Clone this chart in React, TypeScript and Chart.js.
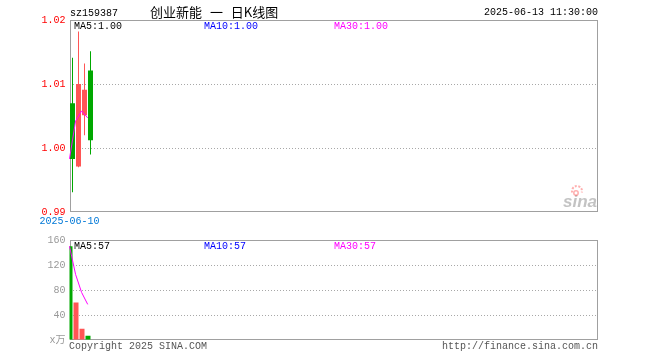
import React, { useEffect, useRef } from "react";
import { Chart, registerables } from "chart.js";

Chart.register(...registerables);

// ---------- data ----------
const stockCode = "sz159387";
const chartTitle = "创业新能 一 日K线图";
const timestamp = "2025-06-13 11:30:00";
const dates = ["2025-06-10", "2025-06-11", "2025-06-12", "2025-06-13"];
const opens = [1.007, 0.9971, 1.0051, 1.0121];
const closes = [0.9983, 1.01, 1.0091, 1.0012];
const highs = [1.0141, 1.0182, 1.0132, 1.0151];
const lows = [0.9931, 0.997, 1.002, 0.999];
const priceMa = [0.9983, 1.0042, 1.0058, 1.0047];
const volumes = [150, 60, 18, 7];
const volumeMa = [150, 105, 76, 57];
const priceTicks = [0.99, 1.0, 1.01, 1.02];
const volumeTicks = [0, 40, 80, 120, 160];
const volumeUnit = "x万";
const slotCount = 88;
const copyright = "Copyright 2025 SINA.COM";
const siteUrl = "http://finance.sina.com.cn";

// ---------- styles ----------
const UP = "#ff5555";
const DOWN = "#00a800";
const MA_COLOR = "#ff00ff";
const MONO = "'Liberation Mono', 'Noto Sans CJK SC', monospace";
const FRAME = "#a0a0a0";
const GRID = "#a8a8a8";

function drawFrame(chart: any) {
  const { ctx, chartArea: a } = chart;
  const l = Math.round(a.left);
  const t = Math.round(a.top);
  const r = Math.round(a.right);
  const b = Math.round(a.bottom);
  ctx.save();
  ctx.strokeStyle = FRAME;
  ctx.lineWidth = 1;
  ctx.strokeRect(l + 0.5, t + 0.5, r - l - 1, b - t - 1);
  ctx.restore();
}

function text(ctx: CanvasRenderingContext2D, s: string, x: number, y: number, color: string, font: string, align: CanvasTextAlign = "left") {
  ctx.save();
  ctx.font = font;
  ctx.fillStyle = color;
  ctx.textAlign = align;
  ctx.textBaseline = "middle";
  ctx.fillText(s, x, y);
  ctx.restore();
}

const monoFont = `10px ${MONO}`;

const pricePlugin = {
  id: "priceDecor",
  beforeDatasetsDraw(chart: any) {
    drawFrame(chart);
    const { ctx } = chart;
    // sina watermark
    ctx.save();
    ctx.globalAlpha = 0.5;
    ctx.fillStyle = "#888";
    ctx.font = "italic bold 17px 'Liberation Sans', sans-serif";
    ctx.textAlign = "right";
    ctx.textBaseline = "alphabetic";
    ctx.fillText("sina", 597, 207);
    ctx.strokeStyle = "#ff6060";
    ctx.lineWidth = 2;
    ctx.setLineDash([2, 1.5]);
    ctx.beginPath();
    ctx.arc(577, 191, 5, Math.PI * 0.9, Math.PI * 2.1);
    ctx.stroke();
    ctx.setLineDash([]);
    ctx.lineWidth = 1.5;
    ctx.beginPath();
    ctx.arc(576, 193, 2.2, 0, Math.PI * 2);
    ctx.stroke();
    ctx.restore();
  },
  afterDraw(chart: any) {
    const { ctx } = chart;
    const last = priceMa.length - 1;
    text(ctx, stockCode, 70, 13, "#000", monoFont);
    ctx.save();
    (ctx as any).wordSpacing = "5px";
    text(ctx, chartTitle, 150, 12.5, "#000", "13px 'Noto Sans CJK SC'");
    ctx.restore();
    text(ctx, timestamp, 598, 12.5, "#000", monoFont, "right");
    const maVal = priceMa[last].toFixed(2);
    text(ctx, `MA5:${maVal}`, 74, 26.5, "#000", monoFont);
    text(ctx, `MA10:${maVal}`, 204, 26.5, "#0000ff", monoFont);
    text(ctx, `MA30:${maVal}`, 334, 26.5, MA_COLOR, monoFont);
    const xs = chart.scales.x;
    text(ctx, dates[0], xs.getPixelForValue(0) - 3, 221.5, "#0078d7", monoFont, "center");
  },
};

const volumePlugin = {
  id: "volumeDecor",
  beforeDatasetsDraw(chart: any) {
    drawFrame(chart);
  },
  afterDraw(chart: any) {
    const { ctx } = chart;
    const last = volumeMa.length - 1;
    const v = String(Math.round(volumeMa[last]));
    text(ctx, `MA5:${v}`, 74, 18, "#000", monoFont);
    text(ctx, `MA10:${v}`, 204, 18, "#0000ff", monoFont);
    text(ctx, `MA30:${v}`, 334, 18, MA_COLOR, monoFont);
    text(ctx, copyright, 69, 118.5, "#555", monoFont);
    text(ctx, siteUrl, 598, 118.5, "#555", monoFont, "right");
  },
};

export default function App() {
  const priceRef = useRef<HTMLCanvasElement>(null);
  const volRef = useRef<HTMLCanvasElement>(null);

  useEffect(() => {
    const colors = opens.map((o, i) => (closes[i] >= o ? UP : DOWN));
    const labels = Array.from({ length: slotCount }, (_, i) => dates[i] ?? "");

    const xScales = {
      x: { type: "category", display: false, offset: true, grid: { display: false } },
      xl: { type: "category", display: false, offset: false, grid: { display: false } },
    };

    const priceChart = new Chart(priceRef.current as HTMLCanvasElement, {
      type: "bar",
      data: {
        labels,
        datasets: [
          {
            type: "bar",
            label: "wick",
            data: lows.map((l, i) => [l, highs[i]]) as any,
            backgroundColor: colors,
            barThickness: 1,
            grouped: false,
            borderWidth: 0,
            inflateAmount: 0,
            xAxisID: "x",
            order: 3,
          } as any,
          {
            type: "bar",
            label: "body",
            data: opens.map((o, i) => [o, closes[i]]) as any,
            backgroundColor: colors,
            barThickness: 5,
            grouped: false,
            borderWidth: 0,
            inflateAmount: 0,
            xAxisID: "x",
            order: 2,
          } as any,
          {
            type: "line",
            label: "MA",
            data: priceMa,
            borderColor: MA_COLOR,
            borderWidth: 1,
            pointRadius: 0,
            tension: 0,
            xAxisID: "xl",
            order: 1,
          } as any,
        ],
      },
      options: {
        responsive: false,
        animation: false,
        events: [],
        layout: { padding: { left: 0, right: 62.5, top: 20, bottom: 16 } },
        plugins: { legend: { display: false }, tooltip: { enabled: false } },
        scales: {
          ...xScales,
          y: {
            type: "linear",
            position: "left",
            min: priceTicks[0],
            max: priceTicks[priceTicks.length - 1],
            afterBuildTicks: (s: any) => {
              s.ticks = priceTicks.map((value) => ({ value }));
            },
            afterFit: (s: any) => {
              s.width = 69.5;
            },
            ticks: {
              color: "#ff0000",
              font: { family: MONO, size: 10 },
              padding: 4,
              callback: (v: any) => Number(v).toFixed(2),
            },
            grid: {
              drawTicks: false,
              lineWidth: 1,
              color: (c: any) =>
                c.tick && (c.tick.value === priceTicks[0] || c.tick.value === priceTicks[priceTicks.length - 1])
                  ? "rgba(0,0,0,0)"
                  : GRID,
            },
            border: { display: false, dash: [1, 2] },
          },
        } as any,
      },
      plugins: [pricePlugin],
    });

    const volChart = new Chart(volRef.current as HTMLCanvasElement, {
      type: "bar",
      data: {
        labels,
        datasets: [
          {
            type: "bar",
            label: "volume",
            data: volumes,
            backgroundColor: colors,
            barThickness: 5,
            borderWidth: 0,
            inflateAmount: 0,
            xAxisID: "x",
            order: 2,
          } as any,
          {
            type: "line",
            label: "MA",
            data: volumeMa,
            borderColor: MA_COLOR,
            borderWidth: 1,
            pointRadius: 0,
            tension: 0,
            xAxisID: "xl",
            order: 1,
          } as any,
        ],
      },
      options: {
        responsive: false,
        animation: false,
        events: [],
        layout: { padding: { left: 0, right: 62.5, top: 12, bottom: 20 } },
        plugins: { legend: { display: false }, tooltip: { enabled: false } },
        scales: {
          ...xScales,
          y: {
            type: "linear",
            position: "left",
            min: volumeTicks[0],
            max: volumeTicks[volumeTicks.length - 1],
            afterBuildTicks: (s: any) => {
              s.ticks = volumeTicks.map((value) => ({ value }));
            },
            afterFit: (s: any) => {
              s.width = 69.5;
            },
            ticks: {
              color: "#999999",
              font: { family: MONO, size: 10 },
              padding: 4,
              callback: (v: any) => (Number(v) === 0 ? volumeUnit : String(v)),
            },
            grid: {
              drawTicks: false,
              lineWidth: 1,
              color: (c: any) =>
                c.tick && (c.tick.value === volumeTicks[0] || c.tick.value === volumeTicks[volumeTicks.length - 1])
                  ? "rgba(0,0,0,0)"
                  : GRID,
            },
            border: { display: false, dash: [1, 2] },
          },
        } as any,
      },
      plugins: [volumePlugin],
    });

    return () => {
      priceChart.destroy();
      volChart.destroy();
    };
  }, []);

  return (
    <div style={{ position: "absolute", left: 0, top: 0, width: 660, height: 360, background: "#fff" }}>
      <canvas ref={priceRef} width={660} height={228} style={{ position: "absolute", left: 0, top: 0, display: "block" }} />
      <canvas ref={volRef} width={660} height={132} style={{ position: "absolute", left: 0, top: 228, display: "block" }} />
    </div>
  );
}
